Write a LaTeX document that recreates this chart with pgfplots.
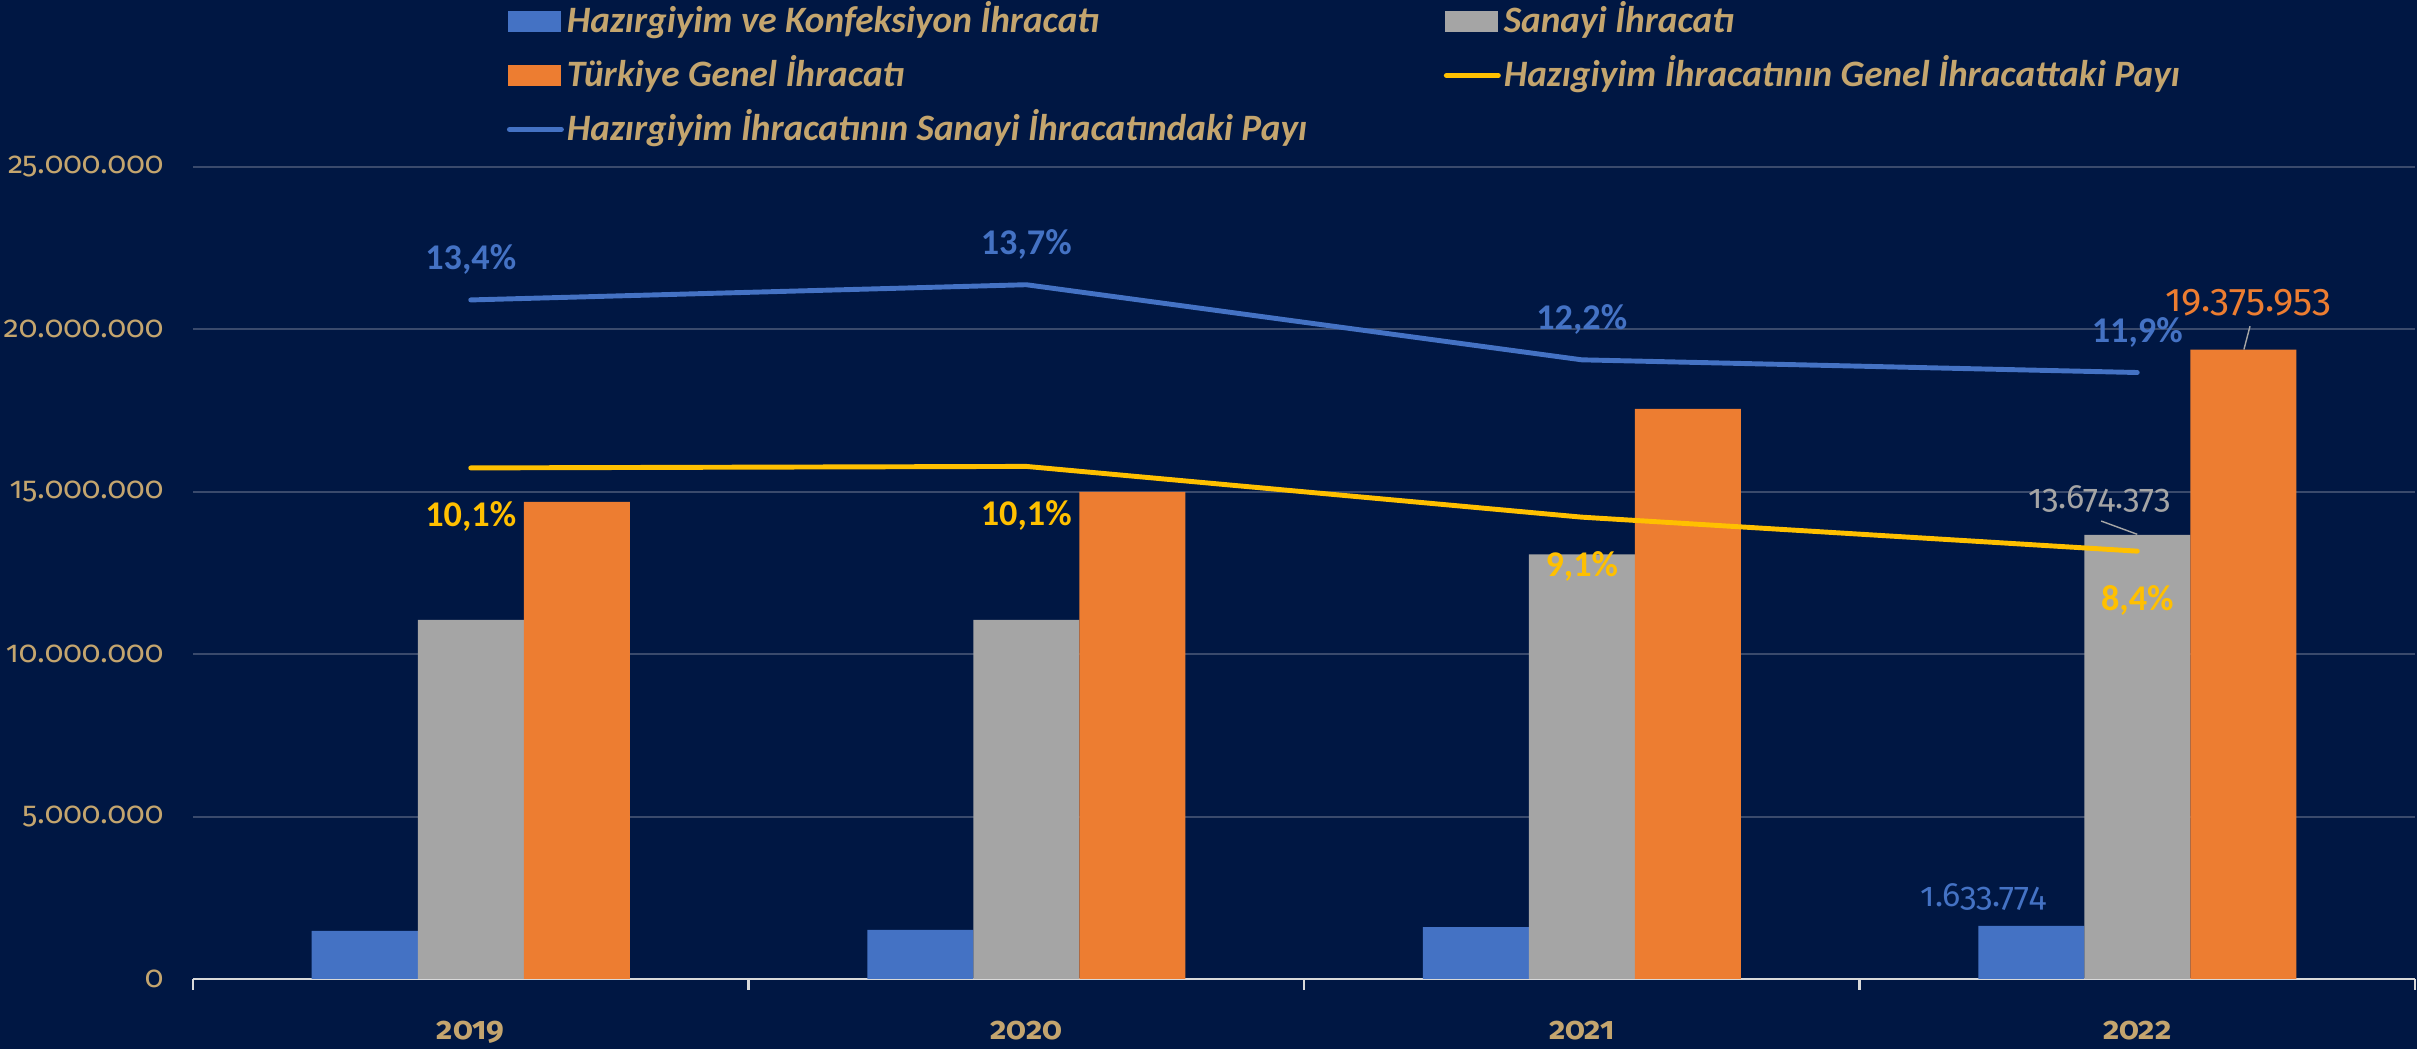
\documentclass[border=0pt]{standalone}
\usepackage{fontspec}
\setmainfont{Carlito}
\newfontfamily\fira[Numbers=OldStyle]{Fira Sans}
\newfontfamily\carl{Carlito}
\usepackage{pgfplots}
\usepackage{pgfplotstable}
\pgfplotsset{compat=1.18}

\definecolor{bgcol}{HTML}{001743}
\definecolor{tan}{HTML}{C4A56E}
\definecolor{barblue}{HTML}{4472C4}
\definecolor{bargray}{HTML}{A5A5A5}
\definecolor{barorange}{HTML}{ED7D31}
\definecolor{lineyellow}{HTML}{FFC000}
\definecolor{lineblue}{HTML}{4472C4}
\definecolor{gridcol}{HTML}{3A4A6C}
\definecolor{axisgray}{HTML}{D9D9D9}
\definecolor{leadercol}{HTML}{A6A6A6}

\newcommand\legfont{\carl\bfseries\itshape\fontsize{10.6pt}{12pt}\selectfont}
\newcommand\tickfont{\fira\fontsize{8.7pt}{10pt}\selectfont}
\newcommand\yearfont{\fira\bfseries\fontsize{9pt}{10pt}\selectfont}
\newcommand\pctfont{\carl\bfseries\fontsize{10.3pt}{12pt}\selectfont}
\newcommand\barfont{\fira\fontsize{9.6pt}{11pt}\selectfont}
\newcommand\bigbarfont{\fira\fontsize{11pt}{12pt}\selectfont}

\pgfplotstableread[col sep=comma]{
x,y,lab
0,1480000,{}
1,1515000,{}
2,1597000,{}
3,1633774,1.633.774
}\tblue
\pgfplotstableread[col sep=comma]{
x,y,lab
0,11060000,{}
1,11060000,{}
2,13070000,{}
3,13674373,13.674.373
}\tgray
\pgfplotstableread[col sep=comma]{
x,y,lab
0,14690000,{}
1,15000000,{}
2,17550000,{}
3,19375953,19.375.953
}\torange
\pgfplotstableread{
x y lab
0 13.38 13,4
1 13.68 13,7
2 12.20 12,2
3 11.95 11,9
}\tsan
\pgfplotstableread{
x y lab
0 10.07 10,1
1 10.10 10,1
2 9.10 9,1
3 8.43 8,4
}\tgen

\begin{document}
\begin{tikzpicture}
\fill[bgcol] (0,0) rectangle (24.17,10.49);
\path[use as bounding box] (0,0) rectangle (24.17,10.49);
\begin{axis}[
  at={(1.93cm,0.70cm)}, anchor=south west,
  scale only axis, width=22.22cm, height=8.12cm,
  xmin=-0.5, xmax=3.5, ymin=0, ymax=25000000,
  enlargelimits=false, clip=false,
  axis x line*=bottom, axis y line*=left,
  x axis line style={draw=axisgray, line width=0.6pt},
  y axis line style={draw=none},
  xtick={0,1,2,3}, xticklabels={2019,2020,2021,2022},
  minor xtick={-0.5,0.5,1.5,2.5,3.5},
  ytick={0,5000000,10000000,15000000,20000000,25000000},
  yticklabels={0,5.000.000,10.000.000,15.000.000,20.000.000,25.000.000},
  scaled y ticks=false,
  major tick length=0pt, minor tick length=0.11cm, tick align=outside,
  tick style={draw=axisgray, line width=0.6pt},
  ymajorgrids, grid style={draw=gridcol, line width=0.6pt},
  xticklabel style={font=\yearfont, text=tan, anchor=north, inner sep=0pt, yshift=-0.41cm},
  yticklabel style={font=\tickfont, text=tan, anchor=east, inner sep=0pt, xshift=-0.29cm},
  legend columns=2,
  legend style={at={(0.1413,1.2124)}, anchor=north west, draw=none, fill=none,
    inner sep=0pt, outer sep=0pt, row sep=0pt, column sep=0pt,
    font=\legfont, text=tan,
    nodes={inner sep=0pt, text height=0.38cm, text depth=0.16cm},
    cells={anchor=west},
    /tikz/every odd column/.append style={column sep=0.03cm}},
]
\addplot[ybar, bar width=1.06cm, bar shift=-1.06cm, fill=barblue, draw=none,
  legend image code/.code={\fill[barblue] (0cm,-0.105cm) rectangle (0.53cm,0.105cm);},
  nodes near coords, point meta=explicit symbolic,
  nodes near coords style={font=\barfont, text=barblue, anchor=center, inner sep=0pt, xshift=-1.54cm, yshift=0.29cm}]
  table[x=x, y=y, meta=lab] {\tblue};
\addlegendentry{\makebox[8.77cm][l]{Hazırgiyim ve Konfeksiyon İhracatı}}
\addplot[ybar, bar width=1.06cm, bar shift=0cm, fill=bargray, draw=none,
  legend image code/.code={\fill[bargray] (0cm,-0.105cm) rectangle (0.53cm,0.105cm);},
  nodes near coords, point meta=explicit symbolic,
  nodes near coords style={font=\barfont, text=bargray, anchor=center, inner sep=0pt, xshift=-0.38cm, yshift=0.36cm}]
  table[x=x, y=y, meta=lab] {\tgray};
\addlegendentry{Sanayi İhracatı}
\addplot[ybar, bar width=1.06cm, bar shift=1.06cm, fill=barorange, draw=none,
  legend image code/.code={\fill[barorange] (0cm,-0.105cm) rectangle (0.53cm,0.105cm);},
  nodes near coords, point meta=explicit symbolic,
  nodes near coords style={font=\bigbarfont, text=barorange, anchor=center, inner sep=0pt, xshift=1.11cm, yshift=0.47cm}]
  table[x=x, y=y, meta=lab] {\torange};
\addlegendentry{\makebox[8.77cm][l]{Türkiye Genel İhracatı}}
\addlegendimage{legend image code/.code={\draw[lineyellow, line width=1.4pt, line cap=round] (0.01cm,0cm) -- (0.53cm,0cm);}}
\addlegendentry{Hazıgiyim İhracatının Genel İhracattaki Payı}
\addlegendimage{legend image code/.code={\draw[lineblue, line width=1.4pt, line cap=round] (0.01cm,0cm) -- (0.53cm,0cm);}}
\addlegendentry{\makebox[8.77cm][l]{Hazırgiyim İhracatının Sanayi İhracatındaki Payı}}
\draw[leadercol, line width=0.4pt] (axis cs:3.203,20100000) -- (axis cs:3.192,19380000);
\draw[leadercol, line width=0.4pt] (axis cs:2.935,14100000) -- (axis cs:3.0,13690000);
\end{axis}
\begin{axis}[
  at={(1.93cm,0.70cm)}, anchor=south west,
  scale only axis, width=22.22cm, height=8.12cm,
  xmin=-0.5, xmax=3.5, ymin=0, ymax=16,
  enlargelimits=false, clip=false, hide axis,
]
\addplot[lineyellow, line width=1.4pt, line cap=round, line join=round,
  nodes near coords={\pgfplotspointmeta\%}, point meta=explicit symbolic,
  nodes near coords style={font=\pctfont, text=lineyellow, anchor=center, inner sep=0pt, yshift=-0.49cm}]
  table[x=x, y=y, meta=lab] {\tgen};
\addplot[lineblue, line width=1.4pt, line cap=round, line join=round,
  nodes near coords={\pgfplotspointmeta\%}, point meta=explicit symbolic,
  nodes near coords style={font=\pctfont, text=lineblue, anchor=center, inner sep=0pt, yshift=0.40cm}]
  table[x=x, y=y, meta=lab] {\tsan};
\end{axis}
\end{tikzpicture}
\end{document}
